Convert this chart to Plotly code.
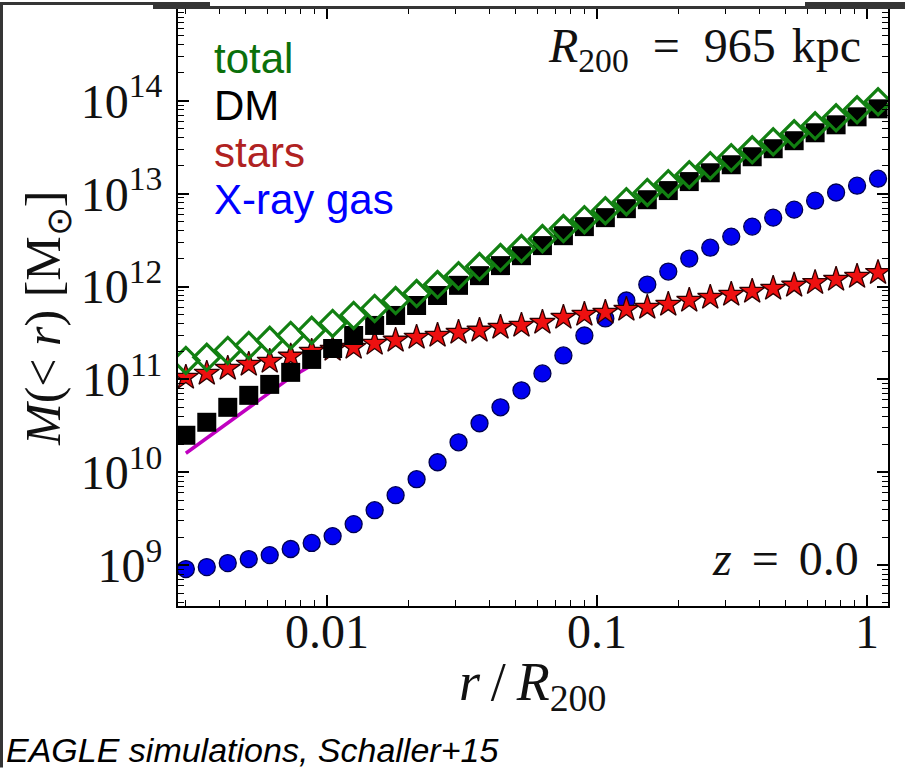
import plotly.graph_objects as go

# Radial bins in units of R200
r_over_r200 = [0.003000, 0.003586, 0.004289, 0.005130, 0.006134, 0.007336, 0.008774,
               0.01049, 0.01255, 0.01501, 0.01795, 0.02147, 0.02567, 0.03070,
               0.03672, 0.04391, 0.05251, 0.06280, 0.07511, 0.08982, 0.1074,
               0.1285, 0.1536, 0.1837, 0.2197, 0.2628, 0.3143, 0.3758, 0.4495,
               0.5375, 0.6427, 0.7686, 0.9192, 1.0993]

# Enclosed mass profiles [Msun]
m_total = [1.60e11, 1.73e11, 2.05e11, 2.32e11, 2.63e11, 2.97e11, 3.37e11, 4.00e11,
           4.88e11, 5.80e11, 7.07e11, 8.41e11, 1.05e12, 1.31e12, 1.64e12, 2.05e12,
           2.56e12, 3.28e12, 4.21e12, 5.25e12, 6.56e12, 8.20e12, 1.03e13, 1.28e13,
           1.60e13, 2.00e13, 2.44e13, 2.97e13, 3.62e13, 4.42e13, 5.38e13, 6.56e13,
           8.00e13, 9.75e13]
m_dm = [2.50e10, 3.45e10, 5.00e10, 6.73e10, 8.83e10, 1.19e11, 1.64e11, 2.15e11,
        2.97e11, 3.81e11, 4.88e11, 6.25e11, 8.00e11, 1.03e12, 1.31e12, 1.68e12,
        2.15e12, 2.76e12, 3.53e12, 4.42e12, 5.52e12, 6.90e12, 8.61e12, 1.08e13,
        1.35e13, 1.68e13, 2.05e13, 2.50e13, 3.05e13, 3.72e13, 4.53e13, 5.52e13,
        6.73e13, 8.20e13]
m_stars = [1.05e11, 1.16e11, 1.31e11, 1.45e11, 1.56e11, 1.77e11, 2.00e11, 2.10e11,
           2.21e11, 2.44e11, 2.63e11, 2.83e11, 2.97e11, 3.20e11, 3.37e11, 3.62e11,
           3.81e11, 4.10e11, 4.64e11, 5.00e11, 5.25e11, 5.66e11, 5.94e11, 6.40e11,
           7.07e11, 7.62e11, 8.20e11, 8.83e11, 9.51e11, 1.03e12, 1.10e12, 1.19e12,
           1.28e12, 1.41e12]
m_xray_gas = [9.06e8, 9.51e8, 1.05e9, 1.16e9, 1.28e9, 1.49e9, 1.73e9, 2.05e9,
              2.76e9, 3.90e9, 5.66e9, 8.41e9, 1.28e10, 2.10e10, 3.37e10, 5.00e10,
              7.62e10, 1.16e11, 1.81e11, 2.97e11, 4.53e11, 7.07e11, 1.05e12, 1.45e12,
              2.00e12, 2.62e12, 3.45e12, 4.42e12, 5.52e12, 6.73e12, 8.41e12, 1.03e13,
              1.22e13, 1.45e13]
# Inner dark-matter reference profile
r_dm_inner = r_over_r200[:7]
m_dm_inner = [1.60e10, 2.32e10, 3.37e10, 4.88e10, 7.07e10, 1.05e11, 1.42e11]

x_ticks = [0.01, 0.1, 1]
x_tick_text = ["0.01", "0.1", "1"]
y_ticks = [1e9, 1e10, 1e11, 1e12, 1e13, 1e14]
y_tick_text = ["10<sup>9</sup>", "10<sup>10</sup>", "10<sup>11</sup>",
               "10<sup>12</sup>", "10<sup>13</sup>", "10<sup>14</sup>"]

legend_names = ["total", "DM", "stars", "X-ray gas"]
legend_colors = ["#0b700b", "#000000", "#b02222", "#0000ff"]

W, H = 905, 768
L, R, T, B = 178, 17, 6, 162
PW, PH = W - L - R, H - T - B


def px(x):
    return (x - L) / PW


def py(y):
    return (H - B - y) / PH


fig = go.Figure()

fig.add_trace(go.Scatter(
    x=r_over_r200, y=m_xray_gas, mode="markers", name="X-ray gas",
    marker=dict(symbol="circle", size=17, color="#0000f0",
                line=dict(color="#000050", width=1.3))))
fig.add_trace(go.Scatter(
    x=r_over_r200, y=m_stars, mode="markers", name="stars",
    marker=dict(symbol="star", size=19, color="#ee1010",
                line=dict(color="#300000", width=1.3))))
fig.add_trace(go.Scatter(
    x=r_dm_inner, y=m_dm_inner, mode="lines", name="DM inner",
    line=dict(color="#c000c0", width=3.5)))
fig.add_trace(go.Scatter(
    x=r_over_r200, y=m_dm, mode="markers", name="DM",
    marker=dict(symbol="square", size=19, color="#000000",
                line=dict(color="#000000", width=0))))
fig.add_trace(go.Scatter(
    x=r_over_r200, y=m_total, mode="markers", name="total",
    marker=dict(symbol="diamond-open", size=20, color="#128012",
                line=dict(color="#128012", width=3.2))))

x_minor = [m * 10 ** e for e in range(-3, 1) for m in range(2, 10)]
y_minor = [m * 10 ** e for e in range(8, 15) for m in range(2, 10)]

serif = "Liberation Serif, Times New Roman, serif"
sans = "Liberation Sans, Arial, sans-serif"

fig.update_xaxes(
    type="log", range=[-2.552, 0.078], showgrid=False, zeroline=False,
    showline=True, linecolor="black", linewidth=2, mirror="allticks",
    ticks="inside", ticklen=11, tickwidth=1.5, tickcolor="black",
    tickvals=x_ticks, ticktext=x_tick_text, ticklabelstandoff=-18,
    tickfont=dict(family=serif, size=48, color="#111111"),
    minor=dict(ticks="inside", ticklen=6, tickwidth=1.2, tickcolor="black",
               tickvals=x_minor, showgrid=False))
fig.update_yaxes(
    type="log", range=[8.559, 15.0], showgrid=False, zeroline=False,
    showline=True, linecolor="black", linewidth=2, mirror="allticks",
    ticks="inside", ticklen=11, tickwidth=1.5, tickcolor="black",
    tickvals=y_ticks, ticktext=y_tick_text, ticklabelstandoff=4,
    tickfont=dict(family=serif, size=48, color="#111111"),
    minor=dict(ticks="inside", ticklen=6, tickwidth=1.2, tickcolor="black",
               tickvals=y_minor, showgrid=False))

en, thr = "\u2002", "\u2004"
annotations = [
    dict(text="<i>r</i>\u2009/\u2009<i>R</i><sub>200</sub>", x=px(532), y=py(686),
         xanchor="center", yanchor="middle", font=dict(family=serif, size=54, color="#111111")),
    dict(text="<i>M</i>(&lt; <i>r</i>) [M<sub>⊙</sub>]", x=px(47), y=py(318), textangle=-90,
         xanchor="center", yanchor="middle", font=dict(family=serif, size=50, color="#111111")),
    dict(text=f"<i>R</i><sub>200</sub>{en}={en}965{thr}kpc", x=px(863), y=py(47),
         xanchor="right", yanchor="middle", font=dict(family=serif, size=48, color="#111111")),
    dict(text=f"<i>z</i>{thr}\u200a={thr}\u200a0.0", x=px(861), y=py(558),
         xanchor="right", yanchor="middle", font=dict(family=serif, size=48, color="#111111")),
    dict(text="<i>EAGLE simulations, Schaller+15</i>", x=px(4), y=py(750),
         xanchor="left", yanchor="middle", font=dict(family=sans, size=34, color="#000000")),
]
for i, (name, col) in enumerate(zip(legend_names, legend_colors)):
    annotations.append(dict(text=name, x=px(212), y=py(57 + 47 * i), xanchor="left", yanchor="middle",
                            font=dict(family=sans, size=42, color=col)))
for a in annotations:
    a.update(xref="paper", yref="paper", showarrow=False)

# Dark page surround
dark = "#353535"
frame = [(0, 0, 153, 3), (153, 0, 210, 7), (210, 4, 805, 7), (805, 0, W, 7), (0, 0, 3, H)]
shapes = [dict(type="rect", xref="paper", yref="paper", x0=px(a), x1=px(c), y0=py(b), y1=py(d),
               fillcolor=dark, line=dict(width=0), layer="above") for a, b, c, d in frame]

fig.update_layout(
    width=W, height=H, autosize=False, margin=dict(l=L, r=R, t=T, b=B),
    paper_bgcolor="white", plot_bgcolor="white", showlegend=False,
    annotations=annotations, shapes=shapes)

fig.write_html("out.html")
